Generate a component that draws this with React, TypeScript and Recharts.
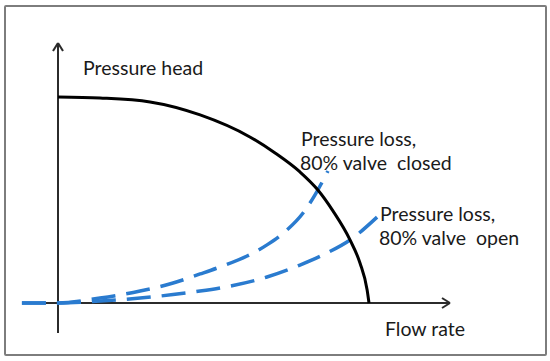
import { LineChart, Line, XAxis, YAxis, ReferenceLine } from 'recharts';

// flow rate in % of shut-off flow, head in % of max head
const pumpCurve = [
  { flow: 0, head: 100 },
  { flow: 13.5, head: 99.5 },
  { flow: 29.6, head: 97.6 },
  { flow: 45.7, head: 91.3 },
  { flow: 61.7, head: 80.6 },
  { flow: 69.8, head: 72.8 },
  { flow: 77.8, head: 63.6 },
  { flow: 83.3, head: 55.3 },
  { flow: 88.4, head: 44.7 },
  { flow: 93.9, head: 30.6 },
  { flow: 97.1, head: 19.4 },
  { flow: 99.4, head: 6.3 },
  { flow: 100, head: 0 },
];

const lossClosed = [
  { flow: -11.6, head: 0 },
  { flow: 0, head: 0 },
  { flow: 13.5, head: 2.4 },
  { flow: 26.4, head: 5.8 },
  { flow: 37.0, head: 9.7 },
  { flow: 45.7, head: 14.1 },
  { flow: 52.1, head: 17.5 },
  { flow: 60.8, head: 22.8 },
  { flow: 67.2, head: 28.2 },
  { flow: 73.6, head: 35.4 },
  { flow: 78.8, head: 43.7 },
  { flow: 82.6, head: 52.4 },
  { flow: 86.8, head: 64.1 },
];

const lossOpen = [
  { flow: -11.6, head: 0 },
  { flow: 0, head: 0 },
  { flow: 13.5, head: 1.0 },
  { flow: 26.4, head: 2.4 },
  { flow: 37.0, head: 4.1 },
  { flow: 45.7, head: 5.8 },
  { flow: 56.3, head: 8.5 },
  { flow: 67.2, head: 12.6 },
  { flow: 77.8, head: 18.4 },
  { flow: 86.5, head: 24.3 },
  { flow: 93.9, head: 30.6 },
  { flow: 102.6, head: 41.7 },
];

const labels = {
  yAxis: 'Pressure head',
  xAxis: 'Flow rate',
  closed: ['Pressure loss,', '80% valve  closed'],
  open: ['Pressure loss,', '80% valve  open'],
};

const W = 550;
const H = 361;
// pixel position of flow 0 / 100 and head 0 / 100
const X0 = 58;
const X100 = 369;
const Y0 = 303;
const Y100 = 97;
const sx = (X100 - X0) / 100;
const sy = (Y0 - Y100) / 100;
const xDomain = [-X0 / sx, (W - X0) / sx];
const yDomain = [(Y0 - H) / sy, Y0 / sy];

// axis extents
const xAxisStart = (32 - X0) / sx;
const xAxisEnd = (450 - X0) / sx;
const yAxisStart = (Y0 - 333) / sy;
const yAxisEnd = (Y0 - 43) / sy;

const axisColor = '#2b2b2b';
const blue = '#2a7bcf';
const font = 'Lato, "Open Sans", sans-serif';

const seg = (x1: number, y1: number, x2: number, y2: number, key: string) => (
  <ReferenceLine
    key={key}
    segment={[{ x: x1, y: y1 }, { x: x2, y: y2 }]}
    stroke={axisColor}
    strokeWidth={2}
    ifOverflow="visible"
  />
);

const App = () => {
  return (
    <div style={{ position: 'absolute', left: 0, top: 0, width: W, height: H, background: '#fff' }}>
      <div
        style={{
          position: 'absolute',
          left: 4,
          top: 5,
          width: 539,
          height: 347,
          border: '2px solid #7d7d7d',
          borderRadius: 2,
        }}
      />
      <LineChart width={W} height={H} margin={{ top: 0, right: 0, bottom: 0, left: 0 }}>
        <XAxis type="number" dataKey="flow" domain={xDomain} hide />
        <YAxis type="number" dataKey="head" domain={yDomain} hide />
        {seg(xAxisStart, 0, xAxisEnd, 0, 'xa')}
        {seg(xAxisEnd - 8 / sx, 5 / sy, xAxisEnd, 0, 'xa1')}
        {seg(xAxisEnd - 8 / sx, -5 / sy, xAxisEnd, 0, 'xa2')}
        {seg(0, yAxisStart, 0, yAxisEnd, 'ya')}
        {seg(-5 / sx, yAxisEnd - 8 / sy, 0, yAxisEnd, 'ya1')}
        {seg(5 / sx, yAxisEnd - 8 / sy, 0, yAxisEnd, 'ya2')}
        <Line
          data={lossClosed}
          dataKey="head"
          type="monotone"
          stroke={blue}
          strokeWidth={3.5}
          strokeDasharray="24 11"
          dot={false}
          activeDot={false}
          isAnimationActive={false}
        />
        <Line
          data={lossOpen}
          dataKey="head"
          type="monotone"
          stroke={blue}
          strokeWidth={3.5}
          strokeDasharray="24 11"
          dot={false}
          activeDot={false}
          isAnimationActive={false}
        />
        <Line
          data={pumpCurve}
          dataKey="head"
          type="monotone"
          stroke="#000"
          strokeWidth={3}
          dot={false}
          activeDot={false}
          isAnimationActive={false}
        />
      </LineChart>
      <svg
        width={W}
        height={H}
        style={{ position: 'absolute', left: 0, top: 0, pointerEvents: 'none' }}
        fontFamily={font}
        fontSize={19.5}
        fill="#1a1a1a"
      >
        <text x={83} y={75}>{labels.yAxis}</text>
        <text x={385} y={336}>{labels.xAxis}</text>
        <text x={301} y={146} style={{ whiteSpace: 'pre' }}>{labels.closed[0]}</text>
        <text x={300} y={170} style={{ whiteSpace: 'pre' }}>{labels.closed[1]}</text>
        <text x={380} y={221} style={{ whiteSpace: 'pre' }}>{labels.open[0]}</text>
        <text x={379} y={245} style={{ whiteSpace: 'pre' }}>{labels.open[1]}</text>
      </svg>
    </div>
  );
};

export default App;
